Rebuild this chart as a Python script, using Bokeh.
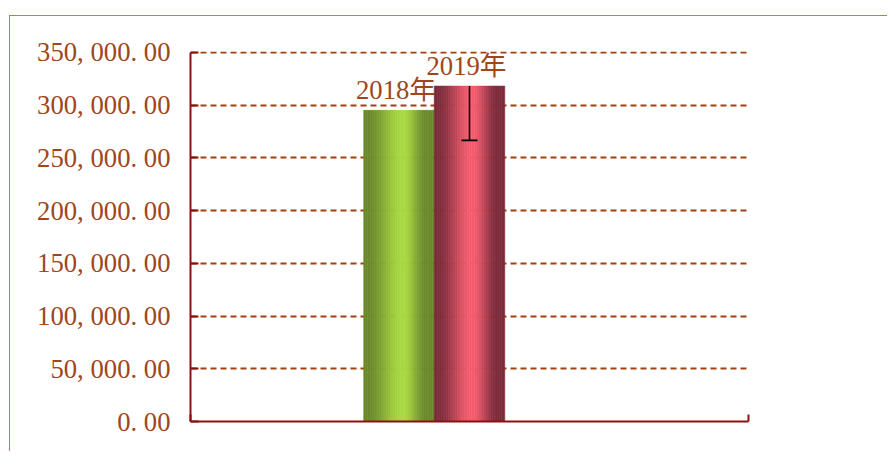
import numpy as np
from bokeh.plotting import figure
from bokeh.models import (FixedTicker, CustomJSTickFormatter, ColumnDataSource, Range1d)
from bokeh.core.properties import value
from bokeh.embed import file_html
from bokeh.resources import INLINE

# ---- data ----
series = ["2018年", "2019年"]
values = [295000, 318000]
err_lower = [None, 266500]
y_ticks = [0, 50000, 100000, 150000, 200000, 250000, 300000, 350000]

# ---- style ----
TXT = "#a0461c"
AXIS = "#8b1010"
GRID = "#a3400e"
FONT = "Liberation Serif, Noto Sans CJK SC"
edge_cols = ["#6b892b", "#7e2b3b"]
peak_cols = ["#a8d941", "#f65c6e"]
peak_pos = [0.56, 0.54]
n_slots = 3
bar_w = 0.1264
n_strips = 40

W, H = 878, 436
p = figure(width=W, height=H, output_backend="svg", toolbar_location=None,
           x_range=Range1d(0, 1), y_range=Range1d(0, 350800),
           min_border_left=180, min_border_right=140, min_border_top=35,
           min_border_bottom=31, margin=(15, 0, 0, 9),
           styles={"border-left": "1px solid #c07a5c",
                   "border-top": "1px solid #c07a5c"})
p.outline_line_color = None
p.background_fill_color = "white"
p.border_fill_color = "white"

# grid
p.xgrid.grid_line_color = None
p.ygrid.ticker = FixedTicker(ticks=y_ticks)
p.ygrid.grid_line_color = GRID
p.ygrid.grid_line_width = 2.2
p.ygrid.grid_line_dash = "6 4"

# y axis
yax = p.yaxis[0]
yax.ticker = FixedTicker(ticks=y_ticks)
yax.formatter = CustomJSTickFormatter(code="""
    const s = tick.toLocaleString('en-US', {minimumFractionDigits: 2, maximumFractionDigits: 2});
    return s.replace(/,/g, ', ').replace('.', '. ');
""")
yax.axis_line_color = AXIS
yax.axis_line_width = 2
yax.bounds = (0, 350000)
yax.major_tick_line_color = AXIS
yax.major_tick_line_width = 2
yax.major_tick_in = 8
yax.major_tick_out = 0
yax.minor_tick_line_color = None
yax.major_label_text_font = FONT
yax.major_label_text_font_size = "26.7px"
yax.major_label_text_color = TXT
yax.major_label_standoff = 20

# x axis
xax = p.xaxis[0]
xax.ticker = FixedTicker(ticks=[0, 1])
xax.formatter = CustomJSTickFormatter(code="return '';")
xax.axis_line_color = AXIS
xax.axis_line_width = 2
xax.major_tick_line_color = AXIS
xax.major_tick_line_width = 2
xax.major_tick_in = 7
xax.major_tick_out = 0
xax.minor_tick_line_color = None
xax.major_label_text_font_size = "0px"


def hex2rgb(h):
    return np.array([int(h[i:i + 2], 16) for i in (1, 3, 5)], dtype=float)


for i, (name, v) in enumerate(zip(series, values)):
    xc = 0.5 + (i - (n_slots - 1) / 2) * bar_w
    left = xc - bar_w / 2
    t = (np.arange(n_strips) + 0.5) / n_strips
    pk = peak_pos[i]
    f = np.where(t < pk, (t - 0.05) / (pk - 0.05), 1 - (t - pk) / (0.9 - pk))
    f = np.clip(f, 0, 1)
    f = f * f * (3 - 2 * f)
    c0, c1 = hex2rgb(edge_cols[i]), hex2rgb(peak_cols[i])
    cols = ["#%02x%02x%02x" % tuple(int(round(c)) for c in (c0 + (c1 - c0) * ff)) for ff in f]
    xs = left + t * bar_w
    src = ColumnDataSource(dict(x=xs, top=[v] * n_strips, color=cols))
    p.vbar(x="x", top="top", bottom=0, width=bar_w / n_strips, source=src,
           fill_color="color", line_color="color", line_width=0.6)
    p.text(x=[xc], y=[v], text=[name], text_font=value(FONT),
           text_font_size="26.7px", text_color=TXT, text_align="center",
           text_baseline="alphabetic", y_offset=-20, x_offset=-3)
    if err_lower[i] is not None:
        p.segment(x0=[xc], y0=[v], x1=[xc], y1=[err_lower[i]],
                  line_color="black", line_width=1.6)
        p.scatter(x=[xc], y=[err_lower[i]], marker="dash", size=16,
                  line_color="black", line_width=1.6)

open("out.html", "w").write(file_html(p, INLINE))
